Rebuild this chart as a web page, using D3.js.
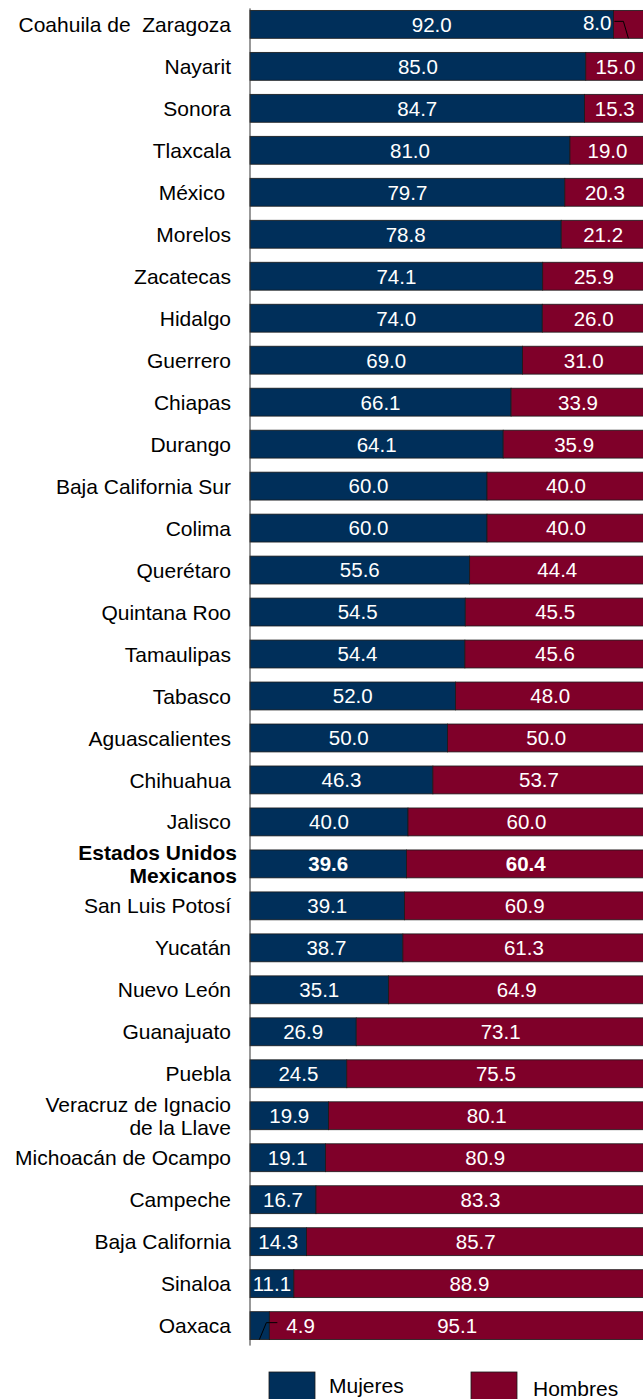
<!DOCTYPE html>
<html>
<head>
<meta charset="utf-8">
<script src="https://cdn.jsdelivr.net/npm/d3@7"></script>
<style>
  body { margin: 0; background: #fff; }
  text { font-family: "Liberation Sans", Arial, sans-serif; }
</style>
</head>
<body>
<div id="chart"></div>
<script>
// data
var estados = ["Coahuila de  Zaragoza", "Nayarit", "Sonora", "Tlaxcala", "México ", "Morelos",
  "Zacatecas", "Hidalgo", "Guerrero", "Chiapas", "Durango", "Baja California Sur", "Colima",
  "Querétaro", "Quintana Roo", "Tamaulipas", "Tabasco", "Aguascalientes", "Chihuahua", "Jalisco",
  "Estados Unidos Mexicanos", "San Luis Potosí", "Yucatán", "Nuevo León", "Guanajuato", "Puebla",
  "Veracruz de Ignacio de la Llave", "Michoacán de Ocampo", "Campeche", "Baja California",
  "Sinaloa", "Oaxaca"];
var mujeres = [92.0, 85.0, 84.7, 81.0, 79.7, 78.8, 74.1, 74.0, 69.0, 66.1, 64.1, 60.0, 60.0,
  55.6, 54.5, 54.4, 52.0, 50.0, 46.3, 40.0, 39.6, 39.1, 38.7, 35.1, 26.9, 24.5, 19.9, 19.1,
  16.7, 14.3, 11.1, 4.9];
var hombres = [8.0, 15.0, 15.3, 19.0, 20.3, 21.2, 25.9, 26.0, 31.0, 33.9, 35.9, 40.0, 40.0,
  44.4, 45.5, 45.6, 48.0, 50.0, 53.7, 60.0, 60.4, 60.9, 61.3, 64.9, 73.1, 75.5, 80.1, 80.9,
  83.3, 85.7, 88.9, 95.1];
var series = ["Mujeres", "Hombres"];
var colores = ["#002F5A", "#7F0029"];
var total = "Estados Unidos Mexicanos";
var labelLines = {
  "Estados Unidos Mexicanos": ["Estados Unidos", "Mexicanos"],
  "Veracruz de Ignacio de la Llave": ["Veracruz de Ignacio", "de la Llave"]
};

var width = 643, height = 1399;
var margin = {top: 2, left: 250, right: -2, bottom: 51};

var svg = d3.select("#chart").append("svg")
  .attr("width", width)
  .attr("height", height);

var x = d3.scaleLinear()
  .domain([0, 100])
  .range([margin.left, width - margin.right]);

var y = d3.scaleBand()
  .domain(estados)
  .range([margin.top, height - margin.bottom])
  .paddingInner(0.335)
  .paddingOuter(0.2);

var color = d3.scaleOrdinal().domain(series).range(colores);

var rows = estados.map(function(e, i) {
  return {estado: e, Mujeres: mujeres[i], Hombres: hombres[i]};
});
var stacked = d3.stack().keys(series)(rows);

// bars
svg.append("g")
  .selectAll("g")
  .data(stacked)
  .enter().append("g")
    .attr("fill", function(d) { return color(d.key); })
  .selectAll("rect")
  .data(function(d) { return d; })
  .enter().append("rect")
    .attr("x", function(d) { return x(d[0]); })
    .attr("y", function(d) { return y(d.data.estado); })
    .attr("width", function(d) { return x(d[1]) - x(d[0]); })
    .attr("height", y.bandwidth())
    .attr("stroke", "#1a1a1a")
    .attr("stroke-width", 0.8);

// value labels
var lab = svg.append("g");
stacked.forEach(function(s) {
  s.forEach(function(d) {
    var v = d[1] - d[0];
    var cx = (x(d[0]) + x(d[1])) / 2;
    var cy = y(d.data.estado) + y.bandwidth() / 2;
    var anchor = "middle";
    var hSmall = s.key === "Hombres" && v < 9;
    var mSmall = s.key === "Mujeres" && v < 6;
    if (hSmall) { cx = x(d[0]) - 2; anchor = "end"; cy -= 2; }
    if (mSmall) { cx = x(d[1]) + 17; anchor = "start"; }
    lab.append("text")
      .attr("x", cx)
      .attr("y", cy)
      .attr("dy", "0.36em")
      .attr("text-anchor", anchor)
      .attr("fill", "#fff")
      .attr("font-size", 20.5)
      .attr("font-weight", d.data.estado === total ? "bold" : "normal")
      .text(d3.format(".1f")(v));
    if (hSmall || mSmall) {
      var bot = y(d.data.estado) + y.bandwidth();
      var pts;
      if (hSmall) {
        pts = [[x(d[0]) + 1, cy - 1], [x(d[0]) + 10, cy - 1], [x(d[0]) + 15, bot]];
      } else {
        pts = [[x(d[1]) + 8, cy - 3], [x(d[1]) - 3, cy - 3], [x(d[1]) - 10, bot]];
      }
      lab.append("path")
        .attr("d", d3.line()(pts))
        .attr("fill", "none")
        .attr("stroke", "#000")
        .attr("stroke-width", 1);
    }
  });
});

// category axis
svg.append("line")
  .attr("x1", x(0)).attr("x2", x(0))
  .attr("y1", y(estados[0]) - 2)
  .attr("y2", y(estados[estados.length - 1]) + y.bandwidth() + 6)
  .attr("stroke", "#333")
  .attr("stroke-width", 1);

var cat = svg.append("g");
estados.forEach(function(e) {
  var lines = labelLines[e] || [e];
  var cy = y(e) + y.bandwidth() / 2;
  var lx = e === total ? x(0) - 13 : x(0) - 19;
  var t = cat.append("text")
    .attr("x", lx)
    .attr("y", cy - (lines.length - 1) * 11.5)
    .attr("text-anchor", "end")
    .attr("font-size", 21)
    .attr("fill", "#000")
    .attr("font-weight", e === total ? "bold" : "normal")
    .style("white-space", "pre");
  lines.forEach(function(l, j) {
    t.append("tspan")
      .attr("x", lx)
      .attr("dy", j === 0 ? "0.36em" : 23)
      .text(l);
  });
});

// legend
var leg = svg.append("g");
var legX = [269, 471];
series.forEach(function(s, i) {
  leg.append("rect")
    .attr("x", legX[i]).attr("y", 1372)
    .attr("width", 46).attr("height", 30)
    .attr("fill", color(s))
    .attr("stroke", "#1a1a1a").attr("stroke-width", 0.8);
  leg.append("text")
    .attr("x", legX[i] + (i === 0 ? 60 : 62)).attr("y", 1393 + i * 3)
    .attr("font-size", 21)
    .text(s);
});
</script>
</body>
</html>
